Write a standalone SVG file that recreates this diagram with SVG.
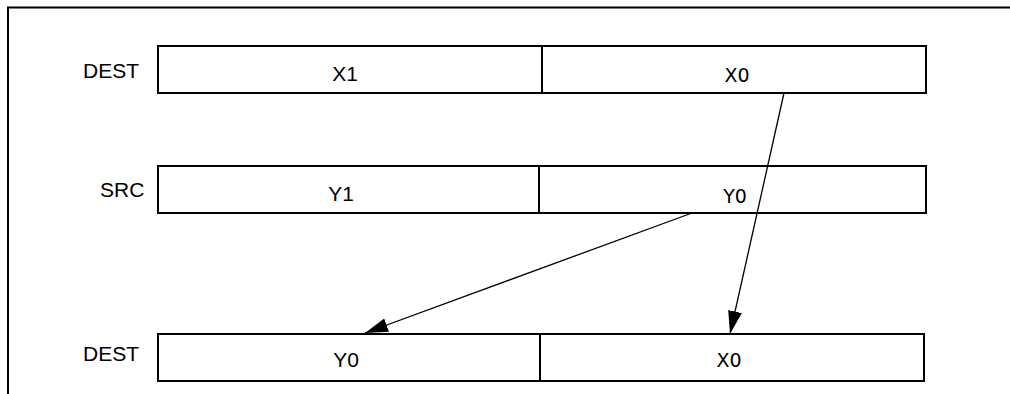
<svg xmlns="http://www.w3.org/2000/svg" width="1010" height="394" viewBox="0 0 1010 394">
<style>
.frame{fill:none;stroke:#000;stroke-width:2}
.box{fill:#fff;stroke:#000;stroke-width:2}
.lbl{font-family:"Liberation Sans",Arial,sans-serif;font-size:21px;fill:#000}
.lbl2{font-family:"DejaVu Sans",sans-serif;font-size:19px;fill:#000}
.conn{stroke:#000;stroke-width:1.3;fill:none;marker-end:url(#ah)}
</style>
<defs>
<marker id="ah" markerUnits="userSpaceOnUse" markerWidth="25" markerHeight="14" refX="23" refY="7" orient="auto">
<path d="M0,0 L23,7 L0,14 Z" fill="#000"/>
</marker>
</defs>
<path class="frame" d="M8,394 L8,7.5 L1010,7.5"/>
<g id="dest1">
<text class="lbl" x="83" y="78">DEST</text>
<rect class="box" x="158" y="46" width="768" height="47"/>
<line x1="542" y1="46" x2="542" y2="93" stroke="#000" stroke-width="2"/>
<text class="lbl" x="345" y="81" text-anchor="middle">X1</text>
<text class="lbl2" x="737" y="82" text-anchor="middle">X0</text>
</g>
<g id="src">
<text class="lbl" x="100" y="197">SRC</text>
<rect class="box" x="158" y="166" width="768" height="47"/>
<line x1="539" y1="166" x2="539" y2="213" stroke="#000" stroke-width="2"/>
<text class="lbl" x="341" y="201" text-anchor="middle">Y1</text>
<text class="lbl2" x="735" y="203" text-anchor="middle">Y0</text>
</g>
<g id="dest2">
<text class="lbl" x="83" y="361">DEST</text>
<rect class="box" x="158" y="334" width="766" height="47"/>
<line x1="540" y1="334" x2="540" y2="381" stroke="#000" stroke-width="2"/>
<text class="lbl" x="346" y="367" text-anchor="middle">Y0</text>
<text class="lbl2" x="729" y="367" text-anchor="middle">X0</text>
</g>
<g id="connectors">
<line class="conn" x1="784" y1="93" x2="730" y2="334"/>
<line class="conn" x1="692" y1="213" x2="365" y2="333"/>
</g>
</svg>
